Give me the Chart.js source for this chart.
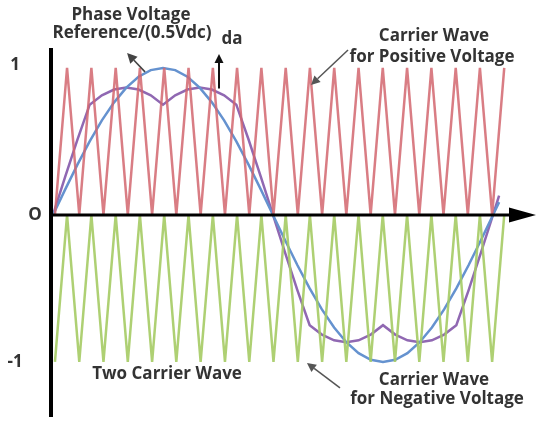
<!DOCTYPE html>
<html>
<head>
<meta charset="utf-8">
<script src="https://cdn.jsdelivr.net/npm/chart.js@4/dist/chart.umd.min.js"></script>
<style>
  html, body { margin: 0; padding: 0; background: #ffffff; }
  #wrap { width: 538px; height: 423px; }
</style>
</head>
<body>
<div id="wrap"><canvas id="c" width="538" height="423"></canvas></div>
<script>
// ---- Data (phase angle in degrees) ----
const carrierAngles = [1.6, 11.5, 21.5, 31.4, 41.3, 51.3, 61.2, 71.1, 81.1, 91.0,
  100.9, 110.9, 120.8, 130.8, 140.7, 150.6, 160.6, 170.5, 180.4, 190.4,
  200.3, 210.2, 220.2, 230.1, 240.0, 250.0, 259.9, 269.8, 279.8, 289.7,
  299.7, 309.6, 319.5, 329.5, 339.4, 349.3, 359.3, 369.2];
const positiveCarrier = [0,1,0,1,0,1,0,1,0,1, 0,1,0,1,0,1,0,1,0,1, 0,1,0,1,0,1,0,1,0,1, 0,1,0,1,0,1,0,1];
const negativeCarrier = [-1,0,-1,0,-1,0,-1,0,-1,0, -1,0,-1,0,-1,0,-1,0,-1,0, -1,0,-1,0,-1,0,-1,0,-1,0, -1,0,-1,0,-1,0,-1,0];

const refAngles = [0,10,20,30,40,50,60,70,80,90,100,110,120,130,140,150,160,170,180,
  190,200,210,220,230,240,250,260,270,280,290,300,310,320,330,340,350,360,365];
const phaseReference = [0,0.174,0.342,0.5,0.643,0.766,0.866,0.94,0.985,1,0.985,0.94,0.866,0.766,0.643,0.5,0.342,0.174,0,
  -0.174,-0.342,-0.5,-0.643,-0.766,-0.866,-0.94,-0.985,-1,-0.985,-0.94,-0.866,-0.766,-0.643,-0.5,-0.342,-0.174,0,0.087];
const dutyA = [0,0.26,0.513,0.75,0.814,0.853,0.866,0.853,0.814,0.75,0.814,0.853,0.866,0.853,0.814,0.75,0.513,0.26,0,
  -0.26,-0.513,-0.75,-0.814,-0.853,-0.866,-0.853,-0.814,-0.75,-0.814,-0.853,-0.866,-0.853,-0.814,-0.75,-0.513,-0.26,0,0.131];

const yTickValues = [1, 0, -1];
const yTickLabels = ['1', 'O', '-1'];

function pts(xs, ys) { return xs.map((x, i) => ({ x: x, y: ys[i] })); }

const FONT = 'bold 17px "Open Sans", Lato, sans-serif';
const TEXT = '#333333';

function arrow(ctx, x1, y1, x2, y2, color, width, head) {
  ctx.save();
  ctx.strokeStyle = color; ctx.fillStyle = color; ctx.lineWidth = width;
  const ang = Math.atan2(y2 - y1, x2 - x1);
  const bx = x2 - head * Math.cos(ang), by = y2 - head * Math.sin(ang);
  ctx.beginPath(); ctx.moveTo(x1, y1); ctx.lineTo(bx, by); ctx.stroke();
  ctx.beginPath();
  ctx.moveTo(x2, y2);
  ctx.lineTo(bx + head * 0.5 * Math.sin(ang), by - head * 0.5 * Math.cos(ang));
  ctx.lineTo(bx - head * 0.5 * Math.sin(ang), by + head * 0.5 * Math.cos(ang));
  ctx.closePath(); ctx.fill();
  ctx.restore();
}

const decorPlugin = {
  id: 'decor',
  afterDatasetsDraw(chart) {
    const ctx = chart.ctx, xs = chart.scales.x, ys = chart.scales.y, a = chart.chartArea;
    const X = v => xs.getPixelForValue(v), Y = v => ys.getPixelForValue(v);
    ctx.save();
    // x axis with arrow
    const y0 = Y(0);
    ctx.strokeStyle = '#000'; ctx.lineWidth = 3;
    ctx.beginPath(); ctx.moveTo(a.left, y0); ctx.lineTo(a.right - 22, y0); ctx.stroke();
    ctx.fillStyle = '#000';
    ctx.beginPath(); ctx.moveTo(a.right - 1, y0); ctx.lineTo(a.right - 28, y0 - 7.5); ctx.lineTo(a.right - 28, y0 + 7.5); ctx.closePath(); ctx.fill();
    // y axis
    ctx.lineWidth = 4;
    ctx.beginPath(); ctx.moveTo(a.left + 2, a.top - 2); ctx.lineTo(a.left + 2, a.bottom - 3); ctx.stroke();
    // y tick labels
    ctx.font = 'bold 17px "Open Sans", Lato, sans-serif';
    ctx.fillStyle = TEXT; ctx.textAlign = 'center'; ctx.textBaseline = 'middle';
    const tickX = [a.left - 34, a.left - 14, a.left - 34];
    yTickValues.forEach((v, i) => ctx.fillText(yTickLabels[i], tickX[i], Y(v) - (v === 1 ? 3 : 0)));
    // annotations
    ctx.font = FONT;
    ctx.fillText('Phase Voltage', X(63.8), Y(1.361));
    ctx.fillText('Reference/(0.5Vdc)', X(64.6), Y(1.238));
    ctx.fillText('da', X(146.5), Y(1.197));
    ctx.fillText('Carrier Wave', X(311.7), Y(1.218));
    ctx.fillText('for Positive Voltage', X(310.1), Y(1.075));
    ctx.fillText('Two Carrier Wave', X(93.3), Y(-1.082));
    ctx.fillText('Carrier Wave', X(311.7), Y(-1.122));
    ctx.fillText('for Negative Voltage', X(314.2), Y(-1.252));
    // arrows
    arrow(ctx, X(135.8), Y(0.86), X(135.8), Y(1.095), '#111', 2, 9);
    arrow(ctx, X(75.3), Y(0.973), X(60.6), Y(1.102), '#444', 1.6, 10);
    arrow(ctx, X(241.4), Y(1.122), X(211.1), Y(0.884), '#555', 1.5, 9);
    arrow(ctx, X(234.8), Y(-1.177), X(207.8), Y(-1.007), '#555', 1.5, 9);
    ctx.restore();
  }
};

new Chart(document.getElementById('c'), {
  type: 'scatter',
  data: {
    datasets: [
      { label: 'Carrier Wave for Positive Voltage', data: pts(carrierAngles, positiveCarrier), borderColor: 'rgba(210,102,110,0.85)', borderWidth: 2.5 },
      { label: 'Carrier Wave for Negative Voltage', data: pts(carrierAngles, negativeCarrier), borderColor: 'rgba(165,203,100,0.9)', borderWidth: 2.5 },
      { label: 'Phase Voltage Reference/(0.5Vdc)', data: pts(refAngles, phaseReference), borderColor: '#6592cf', borderWidth: 2.5 },
      { label: 'da', data: pts(refAngles, dutyA), borderColor: '#9068b2', borderWidth: 2.5 }
    ].map(d => Object.assign(d, { showLine: true, pointRadius: 0, pointHoverRadius: 0, tension: 0, fill: false, borderJoinStyle: 'miter' }))
  },
  options: {
    responsive: false,
    animation: false,
    events: [],
    layout: { padding: { left: 49, right: 1, top: 50, bottom: 3 } },
    plugins: { legend: { display: false }, tooltip: { enabled: false } },
    scales: {
      x: { type: 'linear', min: -3.27, max: 396, display: false },
      y: { type: 'linear', min: -1.395, max: 1.122, display: false }
    }
  },
  plugins: [decorPlugin]
});
</script>
</body>
</html>
